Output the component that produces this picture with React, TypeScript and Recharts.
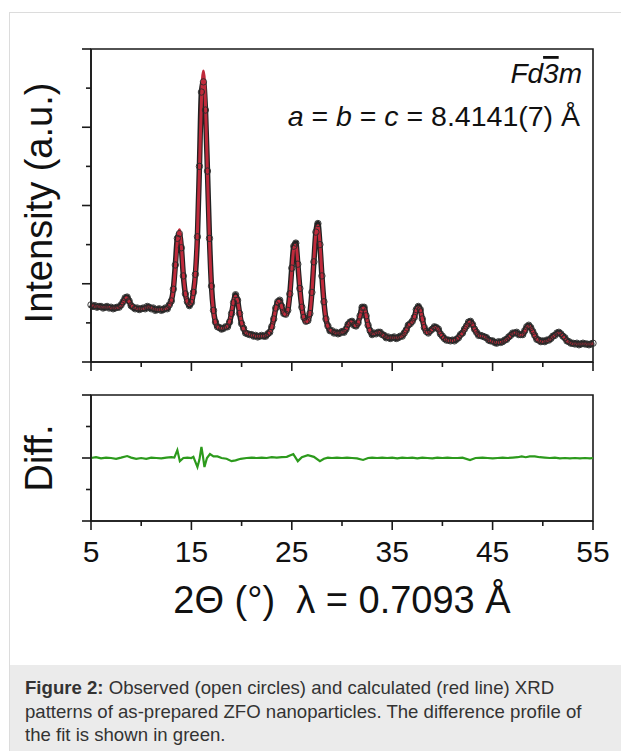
import React from 'react';
import { ComposedChart, LineChart, Line, Scatter, XAxis, YAxis, ReferenceArea } from 'recharts';

const FONT = '"Liberation Sans", Arial, Helvetica, sans-serif';
const AXIS = '#1a1a1a';
const RED = '#bf2a3b';
const GREEN = '#2c9a1c';

// 2-theta grid of the pattern (degrees)
const THETA_START = 5;
const THETA_STEP = 0.2;

// observed intensity, one row = 2 degrees (5.0 ... 54.8), then 55.0
const observed = [
  0.73, 0.71, 0.72, 0.70, 0.71, 0.71, 0.69, 0.70, 0.71, 0.69,
  0.70, 0.68, 0.69, 0.70, 0.70, 0.73, 0.77, 0.82, 0.83, 0.78,
  0.72, 0.70, 0.68, 0.69, 0.67, 0.68, 0.69, 0.68, 0.71, 0.70,
  0.68, 0.69, 0.66, 0.67, 0.68, 0.66, 0.67, 0.69, 0.68, 0.73,
  0.78, 0.93, 1.24, 1.58, 1.64, 1.46, 1.10, 0.87, 0.77, 0.72,
  0.76, 0.89, 1.12, 1.60, 2.50, 3.45, 3.58, 3.22, 2.44, 1.58,
  0.97, 0.66, 0.51, 0.45, 0.44, 0.42, 0.43, 0.45, 0.45, 0.51,
  0.62, 0.76, 0.86, 0.79, 0.62, 0.49, 0.43, 0.37, 0.36, 0.35,
  0.35, 0.33, 0.34, 0.32, 0.33, 0.34, 0.33, 0.33, 0.36, 0.38,
  0.45, 0.55, 0.69, 0.77, 0.79, 0.71, 0.62, 0.61, 0.66, 0.87,
  1.20, 1.48, 1.52, 1.25, 0.94, 0.70, 0.57, 0.52, 0.53, 0.62,
  0.89, 1.28, 1.66, 1.77, 1.50, 1.10, 0.77, 0.55, 0.46, 0.40,
  0.40, 0.37, 0.38, 0.36, 0.37, 0.39, 0.38, 0.42, 0.48, 0.51,
  0.52, 0.47, 0.46, 0.50, 0.59, 0.70, 0.70, 0.59, 0.47, 0.40,
  0.35, 0.37, 0.36, 0.38, 0.38, 0.35, 0.34, 0.31, 0.32, 0.30,
  0.31, 0.32, 0.30, 0.31, 0.33, 0.33, 0.37, 0.41, 0.47, 0.49,
  0.52, 0.57, 0.67, 0.71, 0.67, 0.55, 0.44, 0.39, 0.37, 0.40,
  0.42, 0.45, 0.44, 0.42, 0.36, 0.33, 0.30, 0.28, 0.28, 0.27,
  0.28, 0.27, 0.29, 0.31, 0.35, 0.37, 0.42, 0.46, 0.51, 0.52,
  0.48, 0.42, 0.38, 0.34, 0.34, 0.33, 0.32, 0.31, 0.28, 0.27,
  0.27, 0.25, 0.24, 0.26, 0.25, 0.26, 0.28, 0.29, 0.32, 0.34,
  0.37, 0.37, 0.38, 0.35, 0.35, 0.35, 0.40, 0.45, 0.47, 0.44,
  0.39, 0.34, 0.29, 0.28, 0.26, 0.27, 0.26, 0.28, 0.28, 0.30,
  0.33, 0.34, 0.37, 0.38, 0.36, 0.33, 0.31, 0.27, 0.26, 0.24,
  0.24, 0.23, 0.24, 0.22, 0.23, 0.24, 0.23, 0.23, 0.22, 0.23,
  0.24,
];

// calculated (Rietveld) profile on the same grid
const calculated = [
  0.72, 0.72, 0.71, 0.71, 0.71, 0.70, 0.70, 0.70, 0.70, 0.70,
  0.69, 0.69, 0.69, 0.69, 0.70, 0.72, 0.76, 0.81, 0.82, 0.77,
  0.73, 0.70, 0.69, 0.68, 0.68, 0.68, 0.68, 0.69, 0.70, 0.70,
  0.69, 0.68, 0.67, 0.67, 0.67, 0.67, 0.67, 0.68, 0.69, 0.72,
  0.78, 0.92, 1.20, 1.55, 1.69, 1.48, 1.12, 0.88, 0.76, 0.73,
  0.76, 0.88, 1.15, 1.65, 2.45, 3.35, 3.72, 3.30, 2.40, 1.55,
  0.95, 0.64, 0.50, 0.45, 0.43, 0.43, 0.43, 0.44, 0.46, 0.52,
  0.64, 0.78, 0.84, 0.78, 0.64, 0.50, 0.42, 0.38, 0.36, 0.35,
  0.34, 0.34, 0.33, 0.33, 0.33, 0.33, 0.33, 0.34, 0.35, 0.38,
  0.44, 0.55, 0.68, 0.77, 0.78, 0.70, 0.62, 0.60, 0.66, 0.85,
  1.17, 1.45, 1.50, 1.28, 0.95, 0.70, 0.56, 0.51, 0.52, 0.62,
  0.88, 1.30, 1.65, 1.74, 1.52, 1.12, 0.76, 0.55, 0.45, 0.41,
  0.39, 0.38, 0.37, 0.37, 0.37, 0.38, 0.39, 0.42, 0.47, 0.51,
  0.51, 0.48, 0.46, 0.49, 0.59, 0.68, 0.69, 0.60, 0.47, 0.39,
  0.36, 0.36, 0.37, 0.38, 0.37, 0.35, 0.33, 0.32, 0.31, 0.31,
  0.31, 0.31, 0.31, 0.31, 0.32, 0.33, 0.36, 0.41, 0.46, 0.49,
  0.51, 0.57, 0.66, 0.70, 0.66, 0.55, 0.44, 0.38, 0.37, 0.39,
  0.42, 0.44, 0.44, 0.41, 0.36, 0.32, 0.30, 0.28, 0.27, 0.27,
  0.27, 0.28, 0.29, 0.31, 0.34, 0.37, 0.41, 0.46, 0.50, 0.51,
  0.48, 0.42, 0.37, 0.34, 0.33, 0.33, 0.32, 0.30, 0.28, 0.27,
  0.26, 0.25, 0.25, 0.25, 0.25, 0.26, 0.27, 0.29, 0.31, 0.34,
  0.36, 0.37, 0.37, 0.35, 0.34, 0.35, 0.39, 0.44, 0.46, 0.44,
  0.39, 0.33, 0.29, 0.27, 0.26, 0.26, 0.26, 0.27, 0.28, 0.30,
  0.32, 0.34, 0.36, 0.37, 0.36, 0.33, 0.30, 0.27, 0.25, 0.24,
  0.23, 0.23, 0.23, 0.23, 0.23, 0.23, 0.23, 0.23, 0.23, 0.23,
  0.24,
];

// difference profile (obs - calc)
const diffTheta = [
  5.0, 5.5, 6.0, 6.5, 7.0, 7.5, 8.0, 8.6, 9.0, 9.5,
  10.0, 10.5, 11.0, 11.5, 12.0, 12.5, 13.0, 13.3, 13.6, 13.85,
  14.2, 14.6, 15.0, 15.2, 15.6, 15.8, 16.0, 16.15, 16.3, 16.55,
  16.85, 17.2, 17.6, 18.0, 18.5, 19.0, 19.4, 19.9, 20.5, 21.0,
  21.5, 22.0, 22.5, 23.0, 23.5, 24.0, 24.5, 25.15, 25.6, 26.0,
  26.6, 27.2, 27.8, 28.2, 28.6, 29.0, 29.5, 30.0, 30.5, 31.0,
  31.5, 32.1, 32.6, 33.0, 33.5, 34.0, 34.5, 35.0, 35.5, 36.0,
  36.5, 37.0, 37.5, 38.0, 38.5, 39.0, 39.5, 40.0, 40.5, 41.0,
  41.5, 42.0, 42.75, 43.3, 44.0, 44.5, 45.0, 45.5, 46.0, 46.5,
  47.0, 47.5, 47.9, 48.3, 48.7, 49.2, 49.7, 50.2, 50.7, 51.2,
  51.7, 52.2, 52.7, 53.2, 53.7, 54.2, 54.7, 55.0,
];
const diffValues = [
  0, 0.01, -0.005, 0.005, 0, -0.01, 0.005, 0.025, 0.005, -0.01,
  0, -0.01, 0.005, 0, -0.005, 0.005, 0.01, 0.005, 0.1, -0.04,
  0, 0.005, 0, 0.015, -0.115, -0.02, 0.14, 0.02, -0.115, 0,
  0.05, 0.02, 0.02, 0, -0.01, -0.04, -0.03, -0.01, 0, 0.005,
  0, 0.005, 0, 0.01, 0.005, 0.01, 0.015, 0.05, -0.04, 0.01,
  0.035, 0.015, -0.04, -0.01, 0.005, 0, 0.005, 0, 0.005, 0,
  -0.005, -0.025, 0, 0.005, 0, 0.005, 0, 0.005, -0.005, 0.005,
  0, 0.005, -0.005, 0.005, 0, -0.005, 0.005, 0, 0.005, 0,
  0, 0.005, -0.025, 0, 0.005, 0, -0.005, 0, 0.005, 0,
  0.005, 0.01, 0.02, 0.01, 0.02, 0.02, 0.01, 0.005, 0, 0.005,
  -0.005, 0, -0.005, 0, -0.005, 0, -0.005, 0,
];

const xTicks = [5, 10, 15, 20, 25, 30, 35, 40, 45, 50, 55];
const xMajorTicks = [5, 15, 25, 35, 45, 55];
const intensityTicks = [0, 0.5, 1, 1.5, 2, 2.5, 3, 3.5, 4];
const intensityMajorTicks = [0, 1, 2, 3, 4];
const diffTicks = [-0.8, -0.4, 0, 0.4, 0.8];
const diffMajorTicks = [-0.8, 0, 0.8];

const patternData = observed.map((obs, i) => ({
  theta: Math.round((THETA_START + i * THETA_STEP) * 10) / 10,
  obs,
  calc: calculated[i],
}));
const diffData = diffTheta.map((theta, i) => ({ theta, diff: diffValues[i] }));

const XTick = (props: any) => {
  const { x, y, payload, showLabel } = props;
  const major = xMajorTicks.includes(payload.value);
  return (
    <g>
      <line x1={x} y1={y} x2={x} y2={y + (major ? 9 : 5)} stroke={AXIS} strokeWidth={1.6} />
      {showLabel && major && (
        <text x={x} y={y + 41} textAnchor="middle" fontSize={30} fontFamily={FONT} fill="#111">
          {payload.value}
        </text>
      )}
    </g>
  );
};

const YTick = (props: any) => {
  const { x, y, payload, majors } = props;
  const major = majors.includes(payload.value);
  return <line x1={x} y1={y} x2={x - (major ? 9 : 5)} y2={y} stroke={AXIS} strokeWidth={1.6} />;
};

const OpenCircle = (props: any) => (
  <circle cx={props.cx} cy={props.cy} r={3.2} fill="none" stroke="#2a2a2a" strokeWidth={0.9} />
);

export default function App() {
  return (
    <div style={{ position: 'absolute', left: 0, top: 0, width: 621, height: 751, overflow: 'hidden', background: '#fff', fontFamily: FONT }}>
      <div style={{ position: 'absolute', left: 9, top: 12, width: 700, height: 800, border: '1px solid #dcdcdc', boxSizing: 'border-box' }} />
      <div style={{ position: 'absolute', left: 10, top: 665, width: 700, height: 100, background: '#ebebeb' }} />

      <div style={{ position: 'absolute', left: 0, top: 0 }}>
        <ComposedChart width={621} height={400} data={patternData} margin={{ top: 49, right: 28, bottom: 37, left: 90 }}>
          <XAxis
            dataKey="theta"
            type="number"
            domain={[5, 55]}
            ticks={xTicks}
            interval={0}
            height={1}
            tickSize={0}
            tickMargin={0}
            tickLine={false}
            axisLine={{ stroke: AXIS, strokeWidth: 1.6 }}
            tick={(p: any) => <XTick {...p} showLabel={false} />}
          />
          <YAxis
            type="number"
            domain={[0, 4]}
            ticks={intensityTicks}
            interval={0}
            width={1}
            tickSize={0}
            tickMargin={0}
            tickLine={false}
            axisLine={{ stroke: AXIS, strokeWidth: 1.6 }}
            tick={(p: any) => <YTick {...p} majors={intensityMajorTicks} />}
          />
          <ReferenceArea x1={5} x2={55} y1={0} y2={4} fill="none" fillOpacity={0} stroke={AXIS} strokeWidth={1.6} />
          <Line dataKey="obs" type="monotone" stroke="#222" strokeWidth={5.5} dot={false} isAnimationActive={false} />
          <Scatter dataKey="obs" shape={OpenCircle} isAnimationActive={false} />
          <Line dataKey="calc" type="monotone" stroke={RED} strokeWidth={3} dot={false} isAnimationActive={false} />
        </ComposedChart>
      </div>

      <div style={{ position: 'absolute', left: 0, top: 380 }}>
        <LineChart width={621} height={200} data={diffData} margin={{ top: 15, right: 28, bottom: 58, left: 90 }}>
          <XAxis
            dataKey="theta"
            type="number"
            domain={[5, 55]}
            ticks={xTicks}
            interval={0}
            height={1}
            tickSize={0}
            tickMargin={0}
            tickLine={false}
            axisLine={{ stroke: AXIS, strokeWidth: 1.6 }}
            tick={(p: any) => <XTick {...p} showLabel />}
          />
          <YAxis
            type="number"
            domain={[-0.8, 0.8]}
            ticks={diffTicks}
            interval={0}
            width={1}
            tickSize={0}
            tickMargin={0}
            tickLine={false}
            axisLine={{ stroke: AXIS, strokeWidth: 1.6 }}
            tick={(p: any) => <YTick {...p} majors={diffMajorTicks} />}
          />
          <ReferenceArea x1={5} x2={55} y1={-0.8} y2={0.8} fill="none" fillOpacity={0} stroke={AXIS} strokeWidth={1.6} />
          <Line dataKey="diff" type="linear" stroke={GREEN} strokeWidth={2.2} dot={false} isAnimationActive={false} />
        </LineChart>
      </div>

      <svg width={621} height={751} style={{ position: 'absolute', left: 0, top: 0, pointerEvents: 'none' }} fontFamily={FONT}>
        <text x={52} y={203} transform="rotate(-90 52 203)" textAnchor="middle" fontSize={38} fill="#111">
          Intensity (a.u.)
        </text>
        <text x={52} y={458} transform="rotate(-90 52 458)" textAnchor="middle" fontSize={38} fill="#111">
          Diff.
        </text>
        <text x={342} y={613} textAnchor="middle" fontSize={38} fill="#111" xmlSpace="preserve">
          {'2Θ (°)\u00a0\u00a0λ = 0.7093 Å'}
        </text>
        <text x={582} y={83} textAnchor="end" fontSize={28} fontStyle="italic" fill="#111">
          Fd<tspan style={{ textDecoration: 'overline' }}>3</tspan>m
        </text>
        <text x={580} y={126} textAnchor="end" fontSize={28.5} fill="#111">
          <tspan fontStyle="italic">a</tspan> = <tspan fontStyle="italic">b</tspan> = <tspan fontStyle="italic">c</tspan> = 8.4141(7) Å
        </text>
      </svg>

      <div style={{ position: 'absolute', left: 25, top: 676, fontSize: 18.6, lineHeight: '23.5px', color: '#333', whiteSpace: 'nowrap' }}>
        <b>Figure 2:</b> Observed (open circles) and calculated (red line) XRD
        <br />
        patterns of as-prepared ZFO nanoparticles. The difference profile of
        <br />
        the fit is shown in green.
      </div>
    </div>
  );
}
